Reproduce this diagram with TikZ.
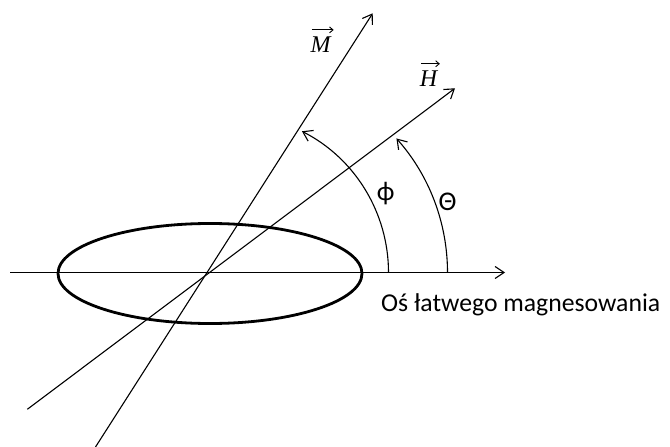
\documentclass[tikz,border=0pt]{standalone}
\usepackage{fontspec}
\setmainfont{Carlito}
\newfontfamily\serifit{Liberation Serif}
\usetikzlibrary{arrows.meta}
\begin{document}
\begin{tikzpicture}[x=1pt,y=-1pt,
  thinline/.style={line width=1.1pt, black},
  tip/.style={-{Straight Barb[length=9pt,width=12pt,line width=1.1pt]}},
  vectip/.style={line width=0.9pt, -{Straight Barb[length=3.5pt,width=6pt,line width=0.9pt]}},
  lbl/.style={inner sep=0pt, font=\fontsize{25.7}{30}\selectfont},
  glbl/.style={inner sep=0pt, font=\fontsize{27}{30}\selectfont},
  vlbl/.style={inner sep=0pt, font=\fontsize{24}{28}\selectfont\serifit\itshape}]
\useasboundingbox (0,0) rectangle (670,447);
% key points
\coordinate (O) at (207,272.5);
\coordinate (axS) at (10,272.5);
\coordinate (axE) at (505,272.5);
\coordinate (mS) at (95.5,447);
\coordinate (mE) at (372.7,13.3);
\coordinate (hS) at (27.3,409.3);
\coordinate (hE) at (455,88.3);
\coordinate (phiS) at (388.5,272.5);
\coordinate (thS) at (447.5,272.5);
\coordinate (elC) at (210,273.5);
% ellipse
\draw[line width=2.8pt] (elC) ellipse [x radius=152, y radius=50];
% axis and vectors
\draw[thinline, tip] (axS) -- (axE);
\draw[thinline, tip] (mS) -- (mE);
\draw[thinline, tip] (hS) -- (hE);
% angle arcs
\draw[thinline, tip] (phiS) arc[start angle=0, end angle=-63, radius=158.5];
\draw[thinline, tip] (thS) arc[start angle=0, end angle=-41.7, radius=201.5];
% labels
\node[lbl, anchor=base west] (axl) at (381,311.5) {Oś łatwego magnesowania};
\node[glbl] (phil) at (385.8,194) {ϕ};
\node[glbl] (thl) at (447.5,201.5) {Θ};
\node[vlbl, anchor=base] (ml) at (320.5,52.3) {M};
\node[vlbl, anchor=base] (hl) at (428.5,86.7) {H};
\draw[vectip] ([xshift=1.5pt,yshift=6.5pt]ml.north west) -- ([xshift=3pt,yshift=6.5pt]ml.north east);
\draw[vectip] ([xshift=1.5pt,yshift=7pt]hl.north west) -- ([xshift=2.5pt,yshift=7pt]hl.north east);
\end{tikzpicture}
\end{document}
